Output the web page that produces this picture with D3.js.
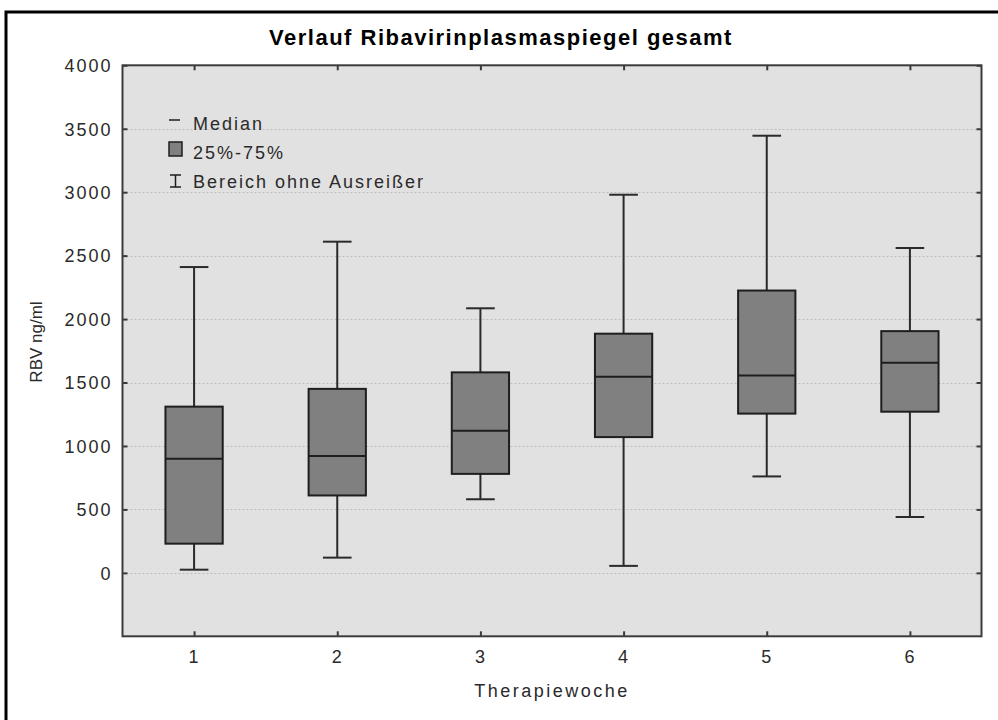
<!DOCTYPE html>
<html>
<head>
<meta charset="utf-8">
<script src="https://cdn.jsdelivr.net/npm/d3@7"></script>
<style>
  html, body { margin: 0; padding: 0; background: #fff; }
  svg { display: block; }
  text { font-family: "Liberation Sans", Arial, sans-serif; fill: #2a2a2a; }
</style>
</head>
<body>
<svg id="chart" width="998" height="720"></svg>
<script>
// Ribavirin plasma levels per therapy week (ng/ml)
const weeks       = [1, 2, 3, 4, 5, 6];
const whiskerLow  = [25, 120, 580, 55, 760, 440];
const q1          = [230, 610, 780, 1070, 1255, 1270];
const median      = [900, 920, 1120, 1545, 1555, 1655];
const q3          = [1310, 1450, 1580, 1885, 2225, 1905];
const whiskerHigh = [2410, 2610, 2085, 2980, 3445, 2560];

const yTicks = [0, 500, 1000, 1500, 2000, 2500, 3000, 3500, 4000];
const legendLabels = ["Median", "25%-75%", "Bereich ohne Ausreißer"];

const titleText = "Verlauf Ribavirinplasmaspiegel gesamt";
const xTitle = "Therapiewoche";
const yTitle = "RBV ng/ml";

const svg = d3.select("#chart");

const plot = { left: 122.5, right: 981.5, top: 65.3, bottom: 636.3 };

const x = d3.scaleLinear().domain([0.5, 6.5]).range([plot.left, plot.right]);
const y = d3.scaleLinear().domain([-500, 4000]).range([plot.bottom, plot.top]);

const labelFont = "18px";
const labelSpacing = "2px";

// outer frame
svg.append("rect")
  .attr("x", 6).attr("y", 12)
  .attr("width", 1000).attr("height", 720)
  .attr("fill", "#fff").attr("stroke", "#000").attr("stroke-width", 3);

// title
svg.append("text")
  .attr("x", 501).attr("y", 45)
  .attr("text-anchor", "middle")
  .style("font-size", "22px").style("font-weight", "bold")
  .style("letter-spacing", "1.5px")
  .style("fill", "#000")
  .text(titleText);

// plot background
svg.append("rect")
  .attr("x", plot.left).attr("y", plot.top)
  .attr("width", plot.right - plot.left).attr("height", plot.bottom - plot.top)
  .attr("fill", "#e1e1e1");

// dotted gridlines
svg.append("g")
  .selectAll("line")
  .data(yTicks.filter(t => t < 4000))
  .join("line")
  .attr("x1", plot.left).attr("x2", plot.right)
  .attr("y1", d => Math.round(y(d)) + 0.5).attr("y2", d => Math.round(y(d)) + 0.5)
  .attr("stroke", "#bcbcbc").attr("stroke-width", 1)
  .attr("stroke-dasharray", "2,2");

// axes with inward ticks
const tickStyle = g => {
  g.select(".domain").remove();
  g.selectAll(".tick line").attr("stroke", "#3a3a3a").attr("stroke-width", 2);
  g.selectAll(".tick text")
    .style("font-size", labelFont).style("letter-spacing", labelSpacing)
    .attr("fill", "#2a2a2a");
};

svg.append("g")
  .attr("transform", `translate(${plot.left},0)`)
  .call(d3.axisLeft(y).tickValues(yTicks).tickSize(-5).tickPadding(10).tickFormat(d3.format("d")))
  .call(tickStyle)
  .call(g => g.selectAll(".tick text").attr("dy", "0.35em"));

svg.append("g")
  .attr("transform", `translate(${plot.right},0)`)
  .call(d3.axisRight(y).tickValues(yTicks).tickSize(-5).tickFormat(""))
  .call(tickStyle);

svg.append("g")
  .attr("transform", `translate(0,${plot.bottom})`)
  .call(d3.axisBottom(x).tickValues(weeks).tickSize(-5).tickPadding(14).tickFormat(d3.format("d")))
  .call(tickStyle);

svg.append("g")
  .attr("transform", `translate(0,${plot.top})`)
  .call(d3.axisTop(x).tickValues(weeks).tickSize(-5).tickFormat(""))
  .call(tickStyle);

// plot border
svg.append("rect")
  .attr("x", plot.left).attr("y", plot.top)
  .attr("width", plot.right - plot.left).attr("height", plot.bottom - plot.top)
  .attr("fill", "none").attr("stroke", "#3c3c3c").attr("stroke-width", 2);

// box plots
const boxW = (x(1) - x(0.5)) * 0.8;
const capW = boxW / 2;
const rows = weeks.map((w, i) => ({
  w, lo: whiskerLow[i], q1: q1[i], med: median[i], q3: q3[i], hi: whiskerHigh[i]
}));

const boxes = svg.append("g").selectAll("g").data(rows).join("g");

boxes.append("line")
  .attr("x1", d => x(d.w)).attr("x2", d => x(d.w))
  .attr("y1", d => y(d.hi)).attr("y2", d => y(d.lo))
  .attr("stroke", "#2a2a2a").attr("stroke-width", 2);

boxes.append("line")
  .attr("x1", d => x(d.w) - capW / 2).attr("x2", d => x(d.w) + capW / 2)
  .attr("y1", d => y(d.hi)).attr("y2", d => y(d.hi))
  .attr("stroke", "#2a2a2a").attr("stroke-width", 2);

boxes.append("line")
  .attr("x1", d => x(d.w) - capW / 2).attr("x2", d => x(d.w) + capW / 2)
  .attr("y1", d => y(d.lo)).attr("y2", d => y(d.lo))
  .attr("stroke", "#2a2a2a").attr("stroke-width", 2);

boxes.append("rect")
  .attr("x", d => x(d.w) - boxW / 2)
  .attr("y", d => y(d.q3))
  .attr("width", boxW)
  .attr("height", d => y(d.q1) - y(d.q3))
  .attr("fill", "#808080").attr("stroke", "#1e1e1e").attr("stroke-width", 2);

boxes.append("line")
  .attr("x1", d => x(d.w) - boxW / 2).attr("x2", d => x(d.w) + boxW / 2)
  .attr("y1", d => y(d.med)).attr("y2", d => y(d.med))
  .attr("stroke", "#1e1e1e").attr("stroke-width", 2);

// legend
const legend = svg.append("g").attr("transform", "translate(168,0)");
const rowY = [130, 159, 188];

legend.append("line")
  .attr("x1", 1).attr("x2", 12).attr("y1", 120).attr("y2", 120)
  .attr("stroke", "#1e1e1e").attr("stroke-width", 1.5);

legend.append("rect")
  .attr("x", 1).attr("y", 142).attr("width", 13).attr("height", 14)
  .attr("fill", "#808080").attr("stroke", "#1e1e1e").attr("stroke-width", 1.5);

legend.append("path")
  .attr("d", "M2,175H13M7.5,175V187M2,187H13")
  .attr("fill", "none").attr("stroke", "#1e1e1e").attr("stroke-width", 1.5);

legend.selectAll("text.lbl")
  .data(legendLabels)
  .join("text")
  .attr("class", "lbl")
  .attr("x", 25).attr("y", (d, i) => rowY[i])
  .style("font-size", labelFont).style("letter-spacing", labelSpacing)
  .text(d => d);

// axis titles
svg.append("text")
  .attr("x", (plot.left + plot.right) / 2).attr("y", 697)
  .attr("text-anchor", "middle")
  .style("font-size", labelFont).style("letter-spacing", "2.5px")
  .text(xTitle);

svg.append("text")
  .attr("transform", "translate(41.5,342) rotate(-90)")
  .attr("text-anchor", "middle")
  .style("font-size", "17px")
  .text(yTitle);
</script>
</body>
</html>
